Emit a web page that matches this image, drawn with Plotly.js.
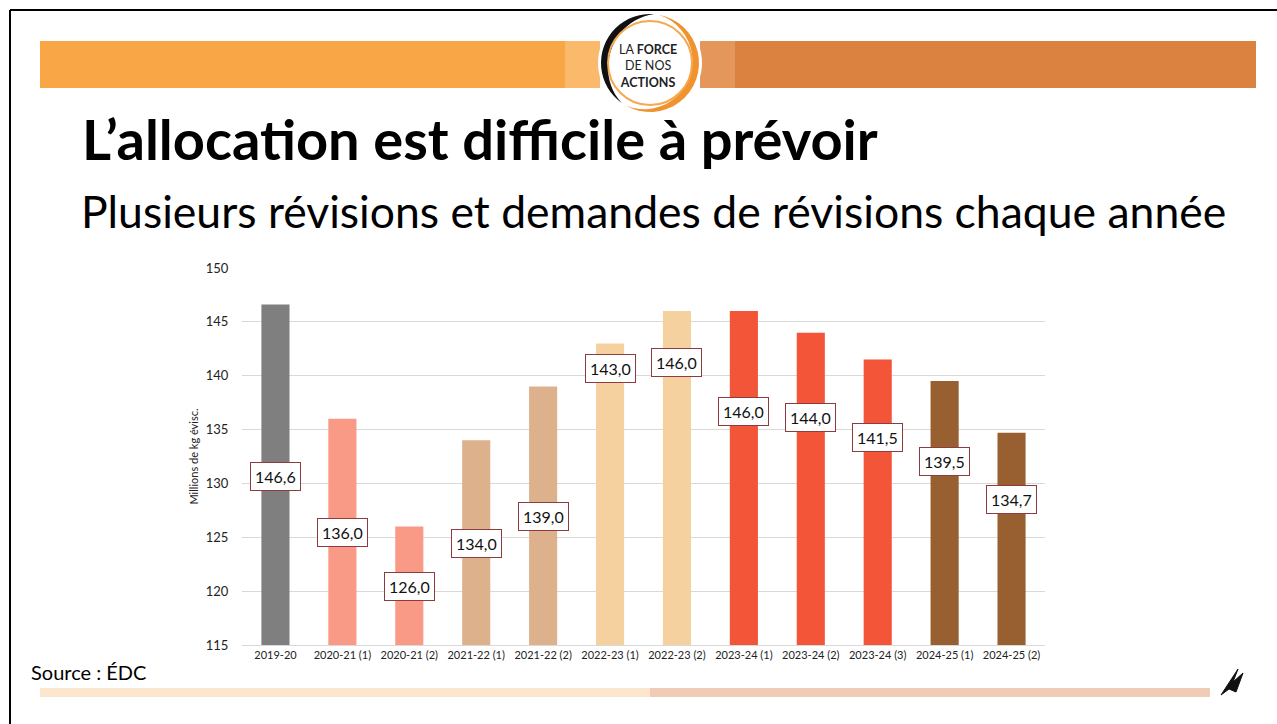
<!DOCTYPE html>
<html>
<head>
<meta charset="utf-8">
<script src="https://cdn.plot.ly/plotly-3.0.1.min.js"></script>
<style>
html,body{margin:0;padding:0;background:#fff;}
#chart{width:1277px;height:724px;}
</style>
</head>
<body>
<div id="chart"></div>
<script>
const categories = ["2019-20","2020-21 (1)","2020-21 (2)","2021-22 (1)","2021-22 (2)","2022-23 (1)","2022-23 (2)","2023-24 (1)","2023-24 (2)","2023-24 (3)","2024-25 (1)","2024-25 (2)"];
const values = [146.6,136.0,126.0,134.0,139.0,143.0,146.0,146.0,144.0,141.5,139.5,134.7];
const barColors = ["#7F7F7F","#F89A86","#F89A86","#DEB18D","#DEB18D","#F6D1A0","#F6D1A0","#F35538","#F35538","#F35538","#985F31","#985F31"];
const yTicks = [115,120,125,130,135,140,145,150];
const titleText = "L’allocation est difficile à prévoir";
const subtitleText = "Plusieurs révisions et demandes de révisions chaque année";
const yTitle = "Millions de kg évisc.";
const sourceText = "Source : ÉDC";

// layout: vertical placement of each value box, in axis units (manually placed in original)
const labelPlacement = [130.6,125.4,120.4,124.4,126.9,140.7,141.2,136.7,136.1,134.3,132.0,128.5];

const W = 1277, H = 724;
const L = 242, R = 1045, T = 268, B = 645;
const px = x => (x - L) / (R - L);
const py = y => (B - y) / (B - T);
const yMin = 115, yMax = 150;

const font = "Lato, 'Open Sans', sans-serif";

const labelAnnotations = categories.map((c, i) => ({
  x: c, y: labelPlacement[i], xref: 'x', yref: 'y',
  text: values[i].toFixed(1).replace('.', ','),
  showarrow: false, bgcolor: '#FFFFFF', bordercolor: '#8E3B3F', borderwidth: 1, borderpad: 4,
  font: {family: font, size: 16, color: '#111'}
}));

// logo crescent (decorative)
const cx = 650, cy = 63;
function crescent(a0, a1, rOut, rInMax, rInMin) {
  const n = 24, outer = [], inner = [];
  for (let k = 0; k <= n; k++) {
    const t = k / n, a = (a0 + (a1 - a0) * t) * Math.PI / 180;
    const rin = rInMax - (rInMax - rInMin) * Math.sin(Math.PI * t);
    outer.push([cx + rOut * Math.cos(a), cy - rOut * Math.sin(a)]);
    inner.push([cx + rin * Math.cos(a), cy - rin * Math.sin(a)]);
  }
  const pts = outer.concat(inner.reverse());
  return 'M ' + pts.map(p => px(p[0]) + ' ' + py(p[1])).join(' L ') + ' Z';
}

const shapes = [
  // frame
  {type:'line', xref:'paper', yref:'paper', x0:px(10), x1:px(1277), y0:py(10), y1:py(10), line:{color:'#000', width:2}},
  {type:'line', xref:'paper', yref:'paper', x0:px(10), x1:px(10), y0:py(10), y1:py(724), line:{color:'#000', width:2}},
  // header bands
  {type:'rect', xref:'paper', yref:'paper', x0:px(40), x1:px(600), y0:py(41), y1:py(88), fillcolor:'#F9A646', line:{width:0}, layer:'below'},
  {type:'rect', xref:'paper', yref:'paper', x0:px(700), x1:px(1256), y0:py(41), y1:py(88), fillcolor:'#DB8240', line:{width:0}, layer:'below'},
  {type:'rect', xref:'paper', yref:'paper', x0:px(565), x1:px(600), y0:py(41), y1:py(88), fillcolor:'#FBB96C', line:{width:0}, layer:'below'},
  {type:'rect', xref:'paper', yref:'paper', x0:px(700), x1:px(735), y0:py(41), y1:py(88), fillcolor:'#E5965A', line:{width:0}, layer:'below'},
  // logo
  {type:'circle', xref:'paper', yref:'paper', x0:px(cx-52), x1:px(cx+52), y0:py(cy-52), y1:py(cy+52), fillcolor:'#FFFFFF', line:{width:0}},
  {type:'path', xref:'paper', yref:'paper', path:crescent(-120, 80, 49, 49, 42), fillcolor:'#F0932F', line:{width:0}},
  {type:'path', xref:'paper', yref:'paper', path:crescent(85, 235, 49, 49, 41), fillcolor:'#111', line:{width:0}},
  {type:'circle', xref:'paper', yref:'paper', x0:px(cx-42), x1:px(cx+42), y0:py(cy-42), y1:py(cy+42), fillcolor:'rgba(0,0,0,0)', line:{color:'#F5A84F', width:2}},
  // bottom band
  {type:'rect', xref:'paper', yref:'paper', x0:px(40), x1:px(650), y0:py(688), y1:py(697), fillcolor:'#FDE6CE', line:{width:0}},
  {type:'rect', xref:'paper', yref:'paper', x0:px(650), x1:px(1210), y0:py(688), y1:py(697), fillcolor:'#F0CBB5', line:{width:0}},
  // bird icon
  {type:'path', xref:'paper', yref:'paper',
   path:`M ${px(1221)} ${py(695)} L ${px(1238)} ${py(669)} L ${px(1233)} ${py(682)} L ${px(1243)} ${py(673)} L ${px(1236)} ${py(692)} L ${px(1229)} ${py(689)} Z`,
   fillcolor:'#111', line:{color:'#111', width:1}}
];

const textAnnotations = [
  {xref:'paper', yref:'paper', x:px(80), y:py(138), xanchor:'left', yanchor:'middle', showarrow:false,
   text:'<b>'+titleText+'</b>', font:{family:font, size:56, color:'#000'}},
  {xref:'paper', yref:'paper', x:px(79), y:py(210), xanchor:'left', yanchor:'middle', showarrow:false,
   text:subtitleText, font:{family:font, size:44.5, color:'#000'}},
  {xref:'paper', yref:'paper', x:px(29), y:py(672), xanchor:'left', yanchor:'middle', showarrow:false,
   text:sourceText, font:{family:font, size:20, color:'#000'}},
  {xref:'paper', yref:'paper', x:px(648), y:py(66), xanchor:'center', yanchor:'middle', showarrow:false,
   text:'LA <b>FORCE</b><br>DE NOS<br><b>ACTIONS</b>', font:{family:font, size:12.5, color:'#222'}}
];

const trace = {
  type:'bar', x:categories, y:values,
  marker:{color:barColors, line:{width:0}},
  hoverinfo:'x+y'
};

const layout = {
  width:W, height:H,
  margin:{l:L, r:W-R, t:T, b:H-B, pad:0},
  paper_bgcolor:'#FFFFFF', plot_bgcolor:'#FFFFFF',
  showlegend:false,
  bargap:0.58,
  font:{family:font, color:'#222'},
  xaxis:{type:'category', showline:true, linecolor:'#D9D9D9', linewidth:1, showgrid:false,
    ticks:'', tickfont:{family:font, size:11, color:'#222'}, fixedrange:true},
  yaxis:{range:[yMin, yMax], tickvals:yTicks, showgrid:true, gridcolor:'#D9D9D9', gridwidth:1,
    zeroline:false, showline:false, ticks:'outside', ticklen:10, tickcolor:'rgba(0,0,0,0)',
    tickfont:{family:font, size:13, color:'#222'},
    title:{text:yTitle, font:{family:font, size:11, color:'#222'}, standoff:4}, fixedrange:true},
  shapes:shapes,
  annotations:labelAnnotations.concat(textAnnotations)
};

Plotly.newPlot('chart', [trace], layout, {displayModeBar:false, staticPlot:true});
</script>
</body>
</html>
